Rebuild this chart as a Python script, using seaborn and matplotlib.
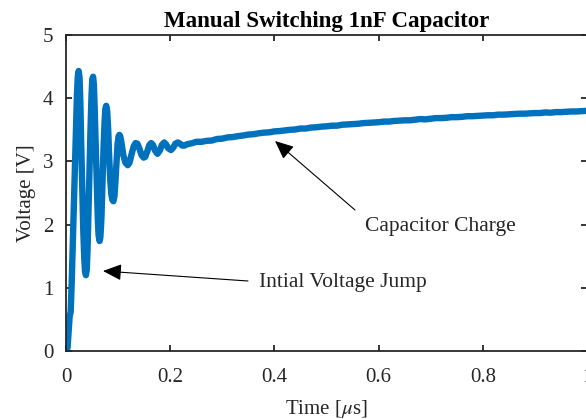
import numpy as np
import pandas as pd
import matplotlib
matplotlib.use("Agg")
import matplotlib.pyplot as plt
import seaborn as sns

# ---- data (time in microseconds, voltage in volts) ----
time_us = [
    0.000, 0.003, 0.005, 0.007, 0.009, 0.011, 0.013, 0.015, 0.017, 0.019,
    0.021, 0.0225, 0.0243, 0.026, 0.0275, 0.029, 0.031, 0.033, 0.035, 0.0365,
    0.0382, 0.040, 0.0415, 0.043, 0.045, 0.047, 0.049, 0.0505, 0.052, 0.0535,
    0.055, 0.057, 0.059, 0.061, 0.0625, 0.0645, 0.066, 0.068, 0.070, 0.072,
    0.074, 0.0755, 0.0772, 0.079, 0.081, 0.083, 0.085, 0.087, 0.089, 0.091,
    0.093, 0.095, 0.097, 0.099, 0.101, 0.1025, 0.104, 0.106, 0.110, 0.114,
    0.1185, 0.122, 0.126, 0.130, 0.1335, 0.137, 0.141, 0.145, 0.149, 0.152,
    0.156, 0.160, 0.1635, 0.167, 0.171, 0.1755, 0.180, 0.184, 0.1885, 0.192,
    0.196, 0.2015, 0.206, 0.210, 0.2145, 0.219, 0.223, 0.2275, 0.232, 0.237,
    0.243, 0.250,
    0.26, 0.27, 0.28, 0.29, 0.30, 0.31, 0.32, 0.33, 0.34, 0.35,
    0.36, 0.37, 0.38, 0.39, 0.40, 0.41, 0.42, 0.43, 0.44, 0.45,
    0.46, 0.47, 0.48, 0.49, 0.50, 0.51, 0.52, 0.53, 0.54, 0.55,
    0.56, 0.57, 0.58, 0.59, 0.60, 0.61, 0.62, 0.63, 0.64, 0.65,
    0.66, 0.67, 0.68, 0.69, 0.70, 0.71, 0.72, 0.73, 0.74, 0.75,
    0.76, 0.77, 0.78, 0.79, 0.80, 0.81, 0.82, 0.83, 0.84, 0.85,
    0.86, 0.87, 0.88, 0.89, 0.90, 0.91, 0.92, 0.93, 0.94, 0.95,
    0.96, 0.97, 0.98, 0.99, 1.00,
]
voltage_v = [
    0.00, 0.05, 0.30, 0.55, 0.62, 1.10, 1.70, 2.30, 2.95, 3.55,
    4.05, 4.33, 4.43, 4.33, 3.95, 3.35, 2.65, 1.95, 1.48, 1.26,
    1.20, 1.30, 1.65, 2.15, 2.85, 3.50, 4.05, 4.30, 4.34, 4.22,
    3.85, 3.25, 2.60, 2.10, 1.83, 1.74, 1.80, 2.10, 2.65, 3.20,
    3.62, 3.83, 3.88, 3.80, 3.50, 3.05, 2.70, 2.48, 2.39, 2.37,
    2.45, 2.70, 3.00, 3.28, 3.40, 3.42, 3.40, 3.32, 3.10, 2.98,
    2.94, 2.98, 3.12, 3.24, 3.29, 3.28, 3.20, 3.10, 3.06, 3.07,
    3.16, 3.26, 3.29, 3.26, 3.17, 3.12, 3.17, 3.26, 3.30, 3.27,
    3.21, 3.18, 3.22, 3.28, 3.30, 3.28, 3.25, 3.25, 3.27, 3.28,
    3.29, 3.31,
    3.310, 3.325, 3.330, 3.355, 3.360, 3.380, 3.385, 3.400, 3.410, 3.425,
    3.430, 3.445, 3.455, 3.460, 3.475, 3.480, 3.490, 3.500, 3.505, 3.520,
    3.520, 3.535, 3.540, 3.550, 3.555, 3.565, 3.565, 3.580, 3.585, 3.590,
    3.595, 3.605, 3.610, 3.615, 3.620, 3.630, 3.630, 3.640, 3.645, 3.650,
    3.650, 3.660, 3.670, 3.665, 3.675, 3.685, 3.685, 3.690, 3.700, 3.700,
    3.705, 3.715, 3.715, 3.720, 3.725, 3.730, 3.730, 3.740, 3.740, 3.745,
    3.750, 3.755, 3.755, 3.760, 3.765, 3.765, 3.775, 3.770, 3.780, 3.780,
    3.785, 3.790, 3.790, 3.795, 3.800,
]
x_ticks = [0, 0.2, 0.4, 0.6, 0.8, 1]
x_tick_labels = ["0", "0.2", "0.4", "0.6", "0.8", "1"]
y_ticks = [0, 1, 2, 3, 4, 5]
y_tick_labels = ["0", "1", "2", "3", "4", "5"]

title = "Manual Switching 1nF Capacitor"
x_label = "Time [$\\mu$s]"
y_label = "Voltage [V]"
note_jump = "Intial Voltage Jump"
note_charge = "Capacitor Charge"

df = pd.DataFrame({"t": time_us, "v": voltage_v})

# ---- style ----
sns.set_style("ticks")
plt.rcParams["font.family"] = ["Liberation Serif", "DejaVu Serif"]
plt.rcParams["mathtext.fontset"] = "stix"
dark = "#262626"

fig = plt.figure(figsize=(5.86, 4.19), dpi=100)
fig.patch.set_facecolor("white")
W, H = 586, 419
AX_L, AX_W, AX_B = 66, 521, 351
ax = fig.add_axes([AX_L / W, (H - AX_B) / H, AX_W / W, 316 / H])

sns.lineplot(data=df, x="t", y="v", ax=ax, color="#0072BD", linewidth=4.6,
             estimator=None, sort=False, solid_joinstyle="round",
             solid_capstyle="round")

ax.set_xlim(0, 1)
ax.set_ylim(0, 5)
ax.set_xticks(x_ticks)
ax.set_xticklabels(x_tick_labels)
ax.set_yticks(y_ticks)
ax.set_yticklabels(y_tick_labels)

for s in ax.spines.values():
    s.set_visible(True)
    s.set_color(dark)
    s.set_linewidth(1.3)

ax.tick_params(axis="both", direction="in", length=4, width=1.3, colors=dark,
               labelsize=15, top=True, right=True)
ax.tick_params(axis="x", pad=12)
ax.tick_params(axis="y", pad=9)
for lab in ax.get_xticklabels() + ax.get_yticklabels():
    lab.set_color(dark)

ax.set_title(title, fontsize=16.5, fontweight="bold", color="black", pad=6)
ax.set_xlabel(x_label, fontsize=15, color=dark)
ax.set_ylabel(y_label, fontsize=15, color=dark)
ax.xaxis.set_label_coords(0.5, -0.148)
ax.yaxis.set_label_coords(-0.058, 0.5)


def px2data(px, py):
    return ((px - AX_L) / float(AX_W), (AX_B - py) / 63.2)


arrow_kw = dict(arrowstyle="-|>,head_length=0.95,head_width=0.42",
                mutation_scale=12, color="black", lw=0.8,
                shrinkA=0, shrinkB=0)

ax.annotate("", xy=px2data(103, 271), xytext=px2data(248, 281),
            arrowprops=arrow_kw, annotation_clip=False)
tx, ty = px2data(259, 283)
ax.text(tx, ty, note_jump, fontsize=15.5, color=dark, ha="left", va="center")

ax.annotate("", xy=px2data(275, 141), xytext=px2data(355, 210),
            arrowprops=arrow_kw, annotation_clip=False)
tx, ty = px2data(365, 226)
ax.text(tx, ty, note_charge, fontsize=15.5, color=dark, ha="left", va="center")

fig.savefig("out.png", dpi=100, facecolor="white")
